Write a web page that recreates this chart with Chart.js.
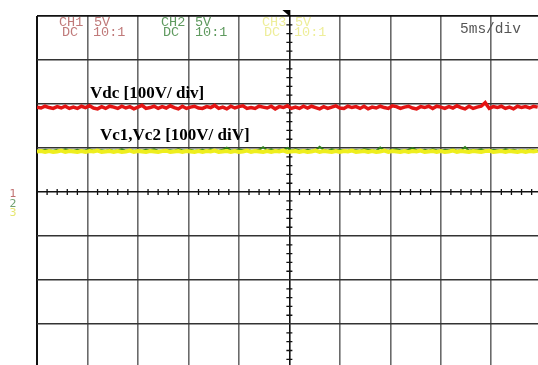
<!DOCTYPE html>
<html>
<head>
<meta charset="utf-8">
<style>
  html, body { margin: 0; padding: 0; background: #fff; }
  #wrap { width: 538px; height: 365px; }
</style>
<script src="https://cdn.jsdelivr.net/npm/chart.js@4.4.0/dist/chart.umd.min.js"></script>
</head>
<body>
<div id="wrap"><canvas id="scope"></canvas></div>
<script>
// time base: 5 ms/div, one sample every 0.4 ms
const sampleStep = 0.4;
const xTicks = [0, 5, 10, 15, 20, 25, 30, 35, 40, 45];
const yTicks = [-300, -200, -100, 0, 100, 200, 300, 400];

// Vdc trace (CH1), volts
const vdc = [
  193,191,195,192,190,194,191,195,190,193,190,195,192,196,191,189,194,190,195,193,
  190,195,191,194,189,193,197,190,192,195,190,194,191,196,192,189,195,190,193,195,
  191,190,194,192,197,190,193,189,195,191,194,196,190,192,190,195,193,191,195,189,
  194,192,196,190,193,190,195,191,195,192,189,194,190,193,196,191,190,195,192,194,
  190,195,189,193,191,195,192,190,196,194,190,193,195,191,189,194,192,195,190,195,
  193,190,194,191,196,192,189,195,190,193,195,203,190,194,192,195,190,193,189,195,
  192,194,191,195,193
];
// Vc1 trace (CH2), volts
const vc1 = [
  95,94,96,95,94,96,94,97,95,94,96,94,95,97,94,96,95,94,96,94,
  95,97,94,96,94,95,94,96,95,97,94,94,96,95,94,97,95,94,96,94,
  95,96,94,97,95,94,96,101,95,94,97,95,96,94,94,96,102,95,97,94,
  96,95,100,94,97,95,94,96,94,95,103,96,94,97,95,96,94,94,96,95,
  94,97,96,95,94,101,95,94,96,97,95,94,96,100,95,94,96,94,97,95,
  94,96,95,97,94,95,102,94,96,95,97,94,94,96,95,94,97,95,96,94,
  95,94,96,95,94
];
// Vc2 trace (CH3), volts
const vc2 = [
  92,93,91,93,91,92,94,91,93,92,91,93,91,93,92,94,91,92,93,91,
  93,91,92,94,91,93,92,91,93,92,91,93,94,91,92,93,91,93,92,91,
  93,91,93,92,94,91,92,93,91,93,91,92,94,91,93,92,91,93,91,93,
  92,94,91,92,93,91,93,91,92,94,91,93,92,91,93,91,93,92,94,91,
  92,93,91,93,91,92,94,91,93,92,91,93,91,93,92,94,91,92,93,91,
  93,91,92,94,91,93,92,91,93,92,91,93,94,91,92,93,91,93,92,91,
  93,91,93,92,94
];

const toPoints = arr => arr.map((v, i) => ({ x: i * sampleStep, y: v }));

const xMax = 49.63;
const yMin = -393, yMax = 400;

// overlay: header texts, centre axis ticks, trigger mark, channel markers
const scopeOverlay = {
  id: 'scopeOverlay',
  afterDraw(chart) {
    const ctx = chart.ctx;
    const xs = chart.scales.x, ys = chart.scales.y;
    const cx = xs.getPixelForValue(25), cy = ys.getPixelForValue(0);
    ctx.save();

    // minor ticks on centre axes
    ctx.strokeStyle = '#111';
    ctx.lineWidth = 1.3;
    ctx.beginPath();
    for (let t = 1; t < xMax; t++) {
      if (t % 5 === 0) continue;
      const px = xs.getPixelForValue(t);
      ctx.moveTo(px, cy - 3); ctx.lineTo(px, cy + 3);
    }
    for (let v = -380; v < 400; v += 20) {
      if (v % 100 === 0) continue;
      const py = ys.getPixelForValue(v);
      ctx.moveTo(cx - 3, py); ctx.lineTo(cx + 3, py);
    }
    ctx.stroke();

    // trigger mark
    const top = ys.getPixelForValue(400);
    ctx.fillStyle = '#000';
    ctx.beginPath();
    ctx.moveTo(cx - 7, top - 6);
    ctx.lineTo(cx + 1, top - 6);
    ctx.lineTo(cx + 1, top + 1);
    ctx.closePath();
    ctx.fill();

    // header
    ctx.font = '13.5px "Liberation Mono", monospace';
    ctx.textBaseline = 'alphabetic';
    const hdr = [
      ['CH1', 59, 26, '#c07a7a'], ['DC', 62, 36, '#c07a7a'], ['5V', 94, 26, '#c07a7a'], ['10:1', 93, 36, '#c07a7a'],
      ['CH2', 161, 26, '#5f9a5f'], ['DC', 163, 36, '#5f9a5f'], ['5V', 195, 26, '#5f9a5f'], ['10:1', 195, 36, '#5f9a5f'],
      ['CH3', 262, 26, '#eeee9a'], ['DC', 264, 36, '#eeee9a'], ['5V', 295, 26, '#eeee9a'], ['10:1', 294, 36, '#eeee9a']
    ];
    hdr.forEach(([t, x, y, c]) => { ctx.fillStyle = c; ctx.fillText(t, x, y); });
    ctx.font = '14.5px "Liberation Mono", monospace';
    ctx.fillStyle = '#555';
    ctx.fillText('5ms/div', 460, 33);

    // trace labels
    ctx.font = 'bold 17px "Liberation Serif", serif';
    ctx.fillStyle = '#000';
    ctx.fillText('Vdc [100V/ div]', 90, 98);
    ctx.fillText('Vc1,Vc2 [100V/ diV]', 100, 140);

    // channel markers
    ctx.font = '11px "DejaVu Sans", sans-serif';
    ctx.textAlign = 'center';
    ctx.fillStyle = '#c07070'; ctx.fillText('1', 13, 197);
    ctx.fillStyle = '#70a070'; ctx.fillText('2', 13, 207);
    ctx.fillStyle = '#e6e670'; ctx.fillText('3', 13, 216);
    ctx.restore();
  }
};

new Chart(document.getElementById('scope'), {
  type: 'line',
  data: {
    datasets: [
      { label: 'Vdc', data: toPoints(vdc), borderColor: '#e41414', borderWidth: 3.5, order: 1 },
      { label: 'Vc2', data: toPoints(vc2), borderColor: '#eeee1e', borderWidth: 4, order: 2 },
      { label: 'Vc1', data: toPoints(vc1), borderColor: '#2f7d1f', borderWidth: 2, order: 3 }
    ]
  },
  options: {
    responsive: true,
    maintainAspectRatio: false,
    animation: false,
    layout: { padding: { left: 37, top: 16, right: 0, bottom: 0 } },
    elements: { point: { radius: 0 }, line: { tension: 0 } },
    plugins: { legend: { display: false }, tooltip: { enabled: false } },
    scales: {
      x: {
        type: 'linear', min: 0, max: xMax,
        afterBuildTicks: s => { s.ticks = xTicks.map(v => ({ value: v })); },
        ticks: { display: false },
        border: { display: false },
        grid: {
          drawTicks: false, tickLength: 0,
          color: c => (c.tick.value === 0 || c.tick.value === 25) ? '#111' : '#6a6a6a',
          lineWidth: c => c.tick.value === 0 ? 2 : 1.6
        }
      },
      y: {
        type: 'linear', min: yMin, max: yMax,
        afterBuildTicks: s => { s.ticks = yTicks.map(v => ({ value: v })); },
        ticks: { display: false },
        border: { display: false },
        grid: {
          drawTicks: false, tickLength: 0,
          color: c => (c.tick.value === 0 || c.tick.value === 400) ? '#111' : '#333',
          lineWidth: c => c.tick.value === 400 ? 1.8 : 1.5
        }
      }
    }
  },
  plugins: [scopeOverlay]
});
</script>
</body>
</html>
